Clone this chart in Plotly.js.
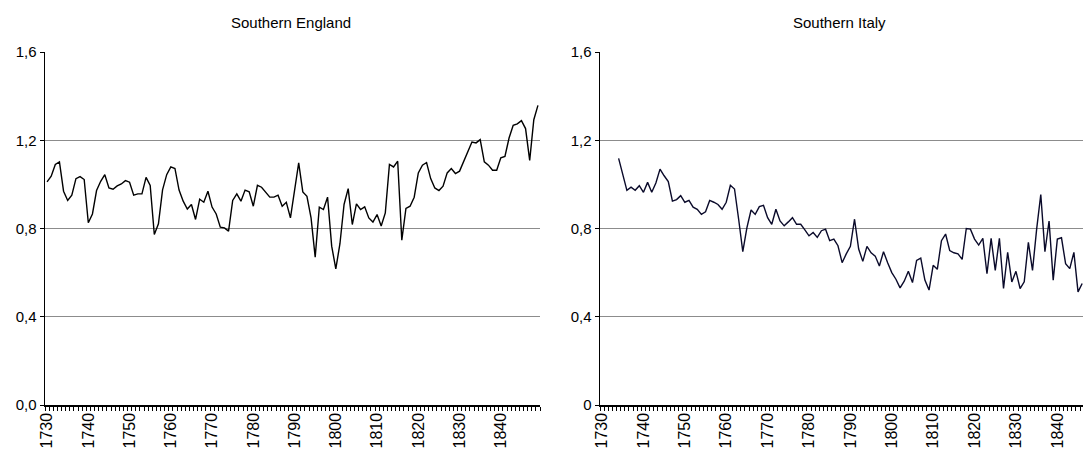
<!DOCTYPE html>
<html>
<head>
<meta charset="utf-8">
<script src="https://cdn.plot.ly/plotly-3.0.1.min.js"></script>
<style>html,body{margin:0;padding:0;background:#fff;}#chart{width:1083px;height:455px;}</style>
</head>
<body>
<div id="chart"></div>
<script>
// ---- Data ----
const englandTitle = "Southern England";
const italyTitle = "Southern Italy";

const englandStartYear = 1730;
const englandValues = [
  1.011, 1.037, 1.090, 1.102, 0.969, 0.927, 0.951, 1.026, 1.035, 1.022,
  0.826, 0.866, 0.972, 1.014, 1.044, 0.984, 0.978, 0.993, 1.002, 1.017,
  1.010, 0.951, 0.957, 0.957, 1.032, 0.995, 0.773, 0.821, 0.975, 1.044,
  1.079, 1.072, 0.974, 0.924, 0.888, 0.909, 0.841, 0.933, 0.919, 0.969,
  0.897, 0.866, 0.806, 0.803, 0.788, 0.927, 0.957, 0.924, 0.974, 0.966,
  0.901, 0.996, 0.987, 0.966, 0.942, 0.942, 0.951, 0.901, 0.919, 0.848,
  0.972, 1.097, 0.966, 0.946, 0.848, 0.670, 0.897, 0.886, 0.942, 0.720,
  0.617, 0.731, 0.909, 0.981, 0.818, 0.912, 0.886, 0.898, 0.848, 0.829,
  0.863, 0.811, 0.871, 1.090, 1.079, 1.105, 0.747, 0.891, 0.901, 0.942,
  1.052, 1.087, 1.099, 1.026, 0.984, 0.972, 0.992, 1.052, 1.072, 1.049,
  1.060, 1.105, 1.150, 1.192, 1.188, 1.203, 1.102, 1.087, 1.064, 1.064,
  1.120, 1.127, 1.210, 1.268, 1.274, 1.289, 1.253, 1.109, 1.293, 1.358
];

const italyStartYear = 1734;
const italyValues = [
  1.118, 1.046, 0.973, 0.987, 0.973, 0.994, 0.964, 1.009, 0.964, 1.006,
  1.069, 1.039, 1.013, 0.924, 0.931, 0.949, 0.919, 0.927, 0.897, 0.887,
  0.864, 0.876, 0.927, 0.919, 0.909, 0.887, 0.919, 0.996, 0.979, 0.842,
  0.695, 0.804, 0.884, 0.864, 0.899, 0.905, 0.849, 0.819, 0.887, 0.834,
  0.812, 0.830, 0.849, 0.819, 0.819, 0.794, 0.767, 0.782, 0.760, 0.790,
  0.797, 0.745, 0.752, 0.722, 0.645, 0.685, 0.719, 0.842, 0.707, 0.651,
  0.719, 0.690, 0.675, 0.630, 0.695, 0.645, 0.600, 0.570, 0.531, 0.561,
  0.606, 0.555, 0.655, 0.666, 0.566, 0.521, 0.633, 0.615, 0.745, 0.775,
  0.700, 0.690, 0.685, 0.660, 0.800, 0.797, 0.752, 0.725, 0.755, 0.595,
  0.755, 0.610, 0.755, 0.528, 0.692, 0.558, 0.606, 0.528, 0.558, 0.737,
  0.610, 0.797, 0.954, 0.695, 0.834, 0.566, 0.752, 0.758, 0.640, 0.618,
  0.692, 0.513, 0.551
];

const xTickYears = [1730, 1740, 1750, 1760, 1770, 1780, 1790, 1800, 1810, 1820, 1830, 1840];
const yTickVals = [0, 0.4, 0.8, 1.2, 1.6];
const englandYTickText = ["0,0", "0,4", "0,8", "1,2", "1,6"];
const italyYTickText = ["0", "0,4", "0,8", "1,2", "1,6"];

// ---- build year categories ----
function yearsFrom(start, n) { const a = []; for (let i = 0; i < n; i++) a.push(start + i); return a; }
const englandYears = yearsFrom(englandStartYear, englandValues.length);
const italyYears = yearsFrom(italyStartYear, italyValues.length);

const W = 1083, H = 455;
const FONT = "Liberation Sans, Arial, sans-serif";

function xAxis(domain, range) {
  return {
    domain: domain, range: range, showgrid: false, zeroline: false,
    showline: true, linecolor: "#000", linewidth: 1.5,
    tickmode: "array", tickvals: xTickYears, ticktext: xTickYears.map(String),
    ticks: "", tickangle: -90, tickfont: {family: FONT, size: 16, color: "#000"},
    minor: {tickmode: "linear", tick0: 1729.5, dtick: 1, ticks: "outside", ticklen: 4, tickcolor: "#000", tickwidth: 1, showgrid: false},
    fixedrange: true
  };
}
function yAxis(anchor, ticktext) {
  return {
    domain: [(H - 405) / H, (H - 52) / H], range: [0, 1.6], anchor: anchor,
    showgrid: true, gridcolor: "#8c8c8c", gridwidth: 1, zeroline: false,
    showline: true, linecolor: "#000", linewidth: 1.5,
    tickmode: "array", tickvals: yTickVals, ticktext: ticktext,
    ticks: "outside", ticklen: 4, tickcolor: "#000",
    tickfont: {family: FONT, size: 15, color: "#000"}, fixedrange: true
  };
}

const traces = [
  {x: englandYears, y: englandValues, type: "scatter", mode: "lines",
   line: {color: "#000000", width: 1.4}, xaxis: "x", yaxis: "y", hoverinfo: "skip"},
  {x: italyYears, y: italyValues, type: "scatter", mode: "lines",
   line: {color: "#0a0a2a", width: 1.4}, xaxis: "x2", yaxis: "y2", hoverinfo: "skip"}
];

const layout = {
  width: W, height: H, margin: {l: 0, r: 0, t: 0, b: 0},
  paper_bgcolor: "#fff", plot_bgcolor: "#fff", showlegend: false,
  font: {family: FONT, color: "#000"},
  xaxis: xAxis([45 / W, 540 / W], [1729.5, 1849.5]),
  yaxis: yAxis("x", englandYTickText),
  xaxis2: Object.assign(xAxis([600 / W, 1], [1729.5, 1846.2]), {anchor: "y2"}),
  yaxis2: yAxis("x2", italyYTickText),
  annotations: [
    {text: englandTitle, xref: "paper", yref: "paper", x: 291 / W, y: (H - 22) / H,
     showarrow: false, font: {family: FONT, size: 15, color: "#000"}, xanchor: "center", yanchor: "middle"},
    {text: italyTitle, xref: "paper", yref: "paper", x: 839 / W, y: (H - 22) / H,
     showarrow: false, font: {family: FONT, size: 15, color: "#000"}, xanchor: "center", yanchor: "middle"}
  ]
};
layout.xaxis.anchor = "y";

Plotly.newPlot("chart", traces, layout, {staticPlot: true, displayModeBar: false});
</script>
</body>
</html>
